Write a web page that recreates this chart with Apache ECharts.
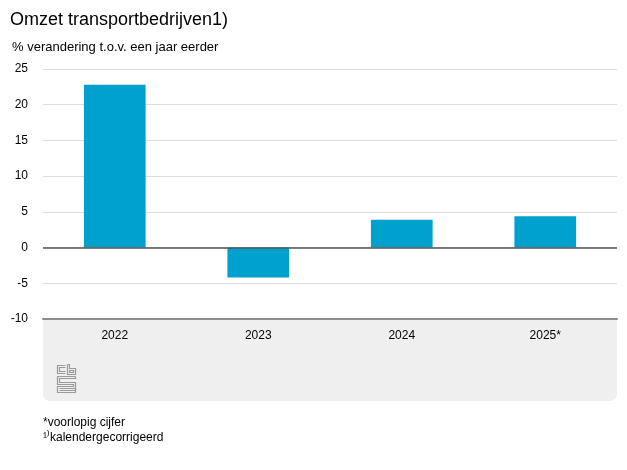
<!DOCTYPE html>
<html><head><meta charset="utf-8">
<script src="https://cdn.jsdelivr.net/npm/echarts@6/dist/echarts.min.js"></script>
<style>html,body{margin:0;padding:0;background:#fff}#c{width:627px;height:470px}</style>
</head><body><div id="c"></div>
<script>
var categories = ['2022', '2023', '2024', '2025*'];
var omzet = [22.8, -4.2, 3.9, 4.4];
var yTicks = [-10, 25, 5];
var titleText = 'Omzet transportbedrijven1)';
var subtitleText = '% verandering t.o.v. een jaar eerder';
var footnotes = ['*voorlopig cijfer', '¹⁾kalendergecorrigeerd'];

var chart = echarts.init(document.getElementById('c'));
var F = 'Liberation Sans, Arial, sans-serif';
var logoStyle = {stroke: '#9a9a9a', lineWidth: 1.2, fill: null};
chart.setOption({
  animation: false,
  textStyle: {fontFamily: F},
  title: [
    {text: titleText, left: 5, top: 6, textStyle: {fontFamily: F, fontSize: 18, fontWeight: 'normal', color: '#000'}},
    {text: subtitleText, left: 7, top: 36, textStyle: {fontFamily: F, fontSize: 13, fontWeight: 'normal', color: '#000'}}
  ],
  grid: {left: 43, right: 10, top: 69, bottom: 151},
  graphic: [
    {type: 'rect', z: -1, shape: {x: 43, y: 320, width: 574, height: 81, r: [0, 0, 7, 7]}, style: {fill: '#efefef'}},
    {type: 'group', left: 55, top: 362, children: [
      {type: 'polyline', shape: {points: [[9,1],[1,1],[1,9],[9,9]]}, style: logoStyle},
      {type: 'polyline', shape: {points: [[9,3],[3,3],[3,7],[9,7]]}, style: logoStyle},
      {type: 'polyline', shape: {points: [[11,0],[11,10],[19,10],[19,4],[13,4],[13,0],[11,0]]}, style: logoStyle},
      {type: 'rect', shape: {x: 13, y: 6, width: 4, height: 2}, style: logoStyle},
      {type: 'polyline', shape: {points: [[19,12],[1,12],[1,20],[17,20],[17,22],[1,22],[1,28],[19,28],[19,18],[3,18],[3,14],[19,14],[19,12]]}, style: logoStyle},
      {type: 'polyline', shape: {points: [[3,24],[19,24],[19,26],[3,26]]}, style: logoStyle}
    ]},
    {type: 'text', left: 43, top: 417, style: {text: footnotes[0], font: '12px ' + F, fill: '#000'}},
    {type: 'text', left: 43, top: 432, style: {text: footnotes[1], font: '12px ' + F, fill: '#000'}}
  ],
  xAxis: {
    type: 'category', data: categories,
    axisLine: {onZero: false, lineStyle: {color: '#8c8c8c', width: 2}},
    axisTick: {show: false},
    axisLabel: {color: '#000', fontSize: 12, margin: 11, fontFamily: F}
  },
  yAxis: {
    type: 'value', min: yTicks[0], max: yTicks[1], interval: yTicks[2],
    axisLine: {show: false}, axisTick: {show: false},
    axisLabel: {color: '#000', fontSize: 12, margin: 15, fontFamily: F},
    splitLine: {lineStyle: {color: '#dcdcdc', width: 1}}
  },
  series: [{
    type: 'bar', data: omzet, barWidth: '43%',
    itemStyle: {color: '#00a1cd'},
    markLine: {silent: true, symbol: 'none', label: {show: false},
      lineStyle: {color: '#555', width: 1.5, type: 'solid'},
      data: [{yAxis: 0}]}
  }]
});
</script></body></html>
